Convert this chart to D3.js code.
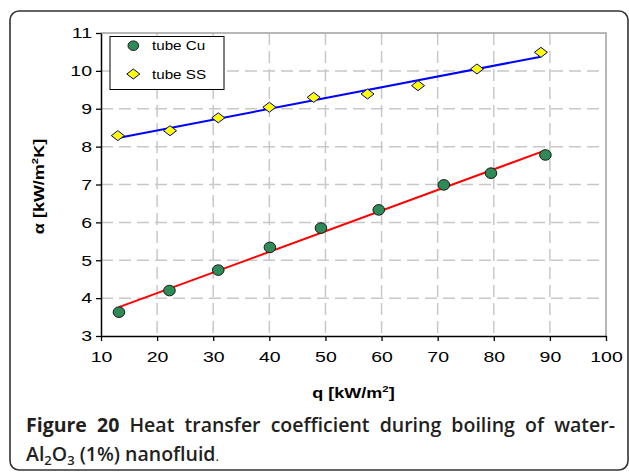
<!DOCTYPE html>
<html><head><meta charset="utf-8">
<script src="https://cdn.jsdelivr.net/npm/d3@7"></script>
<style>body{margin:0;background:#fff}svg{display:block}</style>
</head><body>
<svg id="c" width="629" height="472"></svg>
<script>
const qCu = [13.2, 22.2, 30.9, 40.1, 49.2, 59.5, 71.1, 79.5, 89.2];
const alphaCu = [3.63, 4.20, 4.74, 5.34, 5.85, 6.33, 6.99, 7.30, 7.78];
const qSS = [13.0, 22.3, 30.9, 40.0, 47.9, 57.5, 66.5, 77.0, 88.4];
const alphaSS = [8.29, 8.42, 8.76, 9.04, 9.30, 9.39, 9.61, 10.05, 10.49];
const xTicks = [10, 20, 30, 40, 50, 60, 70, 80, 90, 100];
const yTicks = [3, 4, 5, 6, 7, 8, 9, 10, 11];
const seriesNames = ["tube Cu", "tube SS"];

const svg = d3.select("#c");
const L = 101, R = 606, T = 33, B = 336;
const x = d3.scaleLinear().domain([10, 100]).range([L, R]);
const y = d3.scaleLinear().domain([3, 11]).range([B, T]);
const sans = "'Liberation Sans', Arial, sans-serif";

// outer frame
svg.append("rect").attr("x", 10).attr("y", 11).attr("width", 618).attr("height", 459)
  .attr("rx", 9).attr("fill", "#fff").attr("stroke", "#333").attr("stroke-width", 1.6);

// grid
const g = svg.append("g");
g.selectAll(".vg").data(xTicks.slice(1, -1)).join("line")
  .attr("x1", d => x(d)).attr("x2", d => x(d)).attr("y1", T).attr("y2", B)
  .attr("stroke", "#c8c8c8").attr("stroke-width", 1.5).attr("stroke-dasharray", "12,6");
g.selectAll(".hg").data(yTicks.slice(1, -1)).join("line")
  .attr("y1", d => y(d)).attr("y2", d => y(d)).attr("x1", L).attr("x2", R)
  .attr("stroke", "#c8c8c8").attr("stroke-width", 1.5).attr("stroke-dasharray", "12,6");
// plot border top/right
svg.append("path").attr("d", `M${L},${T}H${R}V${B}`).attr("fill", "none")
  .attr("stroke", "#a0a0a0").attr("stroke-width", 1.5);

// axes
const SX = 1.3;
const xa = svg.append("g").attr("transform", `translate(0,${B})`)
  .call(d3.axisBottom(x).tickValues(xTicks).tickSize(5).tickPadding(6).tickSizeOuter(0));
const ya = svg.append("g").attr("transform", `translate(${L},0)`)
  .call(d3.axisLeft(y).tickValues(yTicks).tickSize(5).tickPadding(4).tickSizeOuter(0));
[xa, ya].forEach(a => {
  a.select(".domain").attr("stroke", "#000").attr("stroke-width", 1.5);
  a.selectAll(".tick line").attr("stroke", "#000").attr("stroke-width", 1.3);
  a.selectAll("text").attr("font-family", sans)
    .attr("font-size", 15).attr("fill", "#000");
});
xa.selectAll("text").attr("dy", "1.0em").attr("transform", `scale(${SX},1)`);
ya.selectAll("text").attr("x", -9 / SX).attr("transform", `scale(${SX},1)`);

// regression lines
function fit(xs, ys) {
  const n = xs.length, mx = d3.mean(xs), my = d3.mean(ys);
  let sxy = 0, sxx = 0;
  for (let i = 0; i < n; i++) { sxy += (xs[i] - mx) * (ys[i] - my); sxx += (xs[i] - mx) ** 2; }
  const b = sxy / sxx, a = my - b * mx;
  const x0 = d3.min(xs), x1 = d3.max(xs);
  return [[x0, a + b * x0], [x1, a + b * x1]];
}
const line = d3.line().x(d => x(d[0])).y(d => y(d[1]));
svg.append("path").attr("d", line(fit(qSS, alphaSS))).attr("stroke", "#0000ff")
  .attr("stroke-width", 2).attr("fill", "none");
svg.append("path").attr("d", line(fit(qCu, alphaCu))).attr("stroke", "#ff0000")
  .attr("stroke-width", 2).attr("fill", "none");

// markers
const cuColor = "#2e8b57";
const diamond = (cx, cy) => `M${cx},${cy - 5}L${cx + 6.5},${cy}L${cx},${cy + 5}L${cx - 6.5},${cy}Z`;
svg.selectAll(".cu").data(qCu.map((q, i) => [q, alphaCu[i]])).join("ellipse")
  .attr("cx", d => x(d[0])).attr("cy", d => y(d[1])).attr("rx", 5.8).attr("ry", 5.3)
  .attr("fill", cuColor).attr("stroke", "#1a1a1a").attr("stroke-width", 1);
svg.selectAll(".ss").data(qSS.map((q, i) => [q, alphaSS[i]])).join("path")
  .attr("d", d => diamond(x(d[0]), y(d[1])))
  .attr("fill", "#ffff00").attr("stroke", "#000080").attr("stroke-width", 1);

// legend
svg.append("rect").attr("x", 110).attr("y", 36.5).attr("width", 114).attr("height", 53)
  .attr("fill", "#fff").attr("stroke", "#000").attr("stroke-width", 1);
svg.append("ellipse").attr("cx", 133.3).attr("cy", 45.7).attr("rx", 5.3).attr("ry", 4.8)
  .attr("fill", cuColor).attr("stroke", "#1a1a1a").attr("stroke-width", 1);
svg.append("path").attr("d", diamond(133.3, 74)).attr("fill", "#ffff00")
  .attr("stroke", "#000080").attr("stroke-width", 1);
const LS = 1.17;
svg.selectAll(".lt").data(seriesNames).join("text")
  .attr("transform", `scale(${LS},1)`)
  .attr("x", 152 / LS).attr("y", (d, i) => 50.5 + i * 28.3).text(d => d)
  .attr("font-family", sans).attr("font-size", 13).attr("fill", "#000");

// axis titles
const TS = 1.2;
const xt = svg.append("text").attr("transform", `translate(${(L + R) / 2},398) scale(${TS},1)`)
  .attr("text-anchor", "middle")
  .attr("font-family", sans).attr("font-size", 15).attr("font-weight", "bold");
xt.append("tspan").text("q [kW/m");
xt.append("tspan").text("2").attr("font-size", 9.5).attr("dy", -6);
xt.append("tspan").text("]").attr("dy", 6);

const yt = svg.append("text").attr("transform", `translate(44,${(T + B) / 2 + 2}) rotate(-90) scale(${TS},1)`)
  .attr("text-anchor", "middle")
  .attr("font-family", sans).attr("font-size", 15).attr("font-weight", "bold");
yt.append("tspan").text("α [kW/m");
yt.append("tspan").text("2").attr("font-size", 9.5).attr("dy", -6);
yt.append("tspan").text("K]").attr("dy", 6);

// caption
const capFont = "'Open Sans', 'Noto Sans', sans-serif";
const c1 = svg.append("text").attr("x", 26).attr("y", 432)
  .attr("font-family", capFont).attr("font-size", 19.5).attr("fill", "#231f20");
c1.append("tspan").text("Figure 20").attr("font-weight", 700);
c1.append("tspan").text(" Heat transfer coefficient during boiling of water-").attr("font-weight", 600);
const w = c1.node().getComputedTextLength();
const spaces = 8;
c1.attr("word-spacing", Math.max(0, (589 - w) / spaces));

const c2 = svg.append("text").attr("x", 26).attr("y", 461)
  .attr("font-family", capFont).attr("font-size", 19.5).attr("fill", "#231f20").attr("font-weight", 600);
c2.append("tspan").text("Al");
c2.append("tspan").text("2").attr("font-size", 13).attr("dy", 4);
c2.append("tspan").text("O").attr("dy", -4);
c2.append("tspan").text("3").attr("font-size", 13).attr("dy", 4);
c2.append("tspan").text(" (1%) nanofluid").attr("dy", -4);
c2.append("tspan").text(".").attr("font-weight", 400).attr("font-size", 13);
</script>
</body></html>
